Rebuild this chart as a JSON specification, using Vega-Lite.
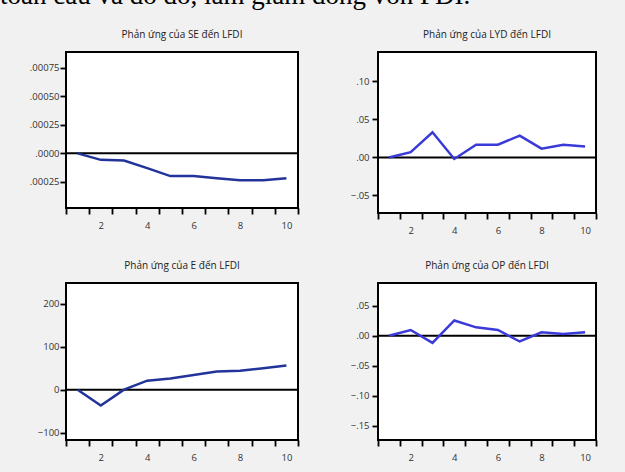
{
  "$schema": "https://vega.github.io/schema/vega-lite/v6.json",
  "autosize": {"type": "none"},
  "padding": {"left": 66, "top": 52, "right": 559, "bottom": 420},
  "background": "#f1f1f1",
  "title": {
    "text": "toàn cầu và do đó, làm giảm dòng vốn FDI.",
    "font": "Liberation Serif",
    "fontSize": 27,
    "fontWeight": "normal",
    "color": "black",
    "anchor": "start",
    "frame": "group",
    "dx": -66,
    "dy": -2,
    "offset": 17
  },
  "datasets": {
    "se": [
      {"period": 1, "value": 0.0},
      {"period": 2, "value": -0.000057},
      {"period": 3, "value": -0.000063},
      {"period": 4, "value": -0.00013},
      {"period": 5, "value": -0.0002},
      {"period": 6, "value": -0.0002},
      {"period": 7, "value": -0.000218},
      {"period": 8, "value": -0.000236},
      {"period": 9, "value": -0.000236},
      {"period": 10, "value": -0.000218}
    ],
    "lyd": [
      {"period": 1, "value": 0.0},
      {"period": 2, "value": 0.007},
      {"period": 3, "value": 0.033},
      {"period": 4, "value": -0.002},
      {"period": 5, "value": 0.0167},
      {"period": 6, "value": 0.0167},
      {"period": 7, "value": 0.0286},
      {"period": 8, "value": 0.0115},
      {"period": 9, "value": 0.0167},
      {"period": 10, "value": 0.0145}
    ],
    "e": [
      {"period": 1, "value": 0},
      {"period": 2, "value": -37},
      {"period": 3, "value": 0},
      {"period": 4, "value": 21},
      {"period": 5, "value": 26},
      {"period": 6, "value": 34},
      {"period": 7, "value": 42},
      {"period": 8, "value": 44},
      {"period": 9, "value": 50},
      {"period": 10, "value": 56}
    ],
    "op": [
      {"period": 1, "value": 0.0},
      {"period": 2, "value": 0.0096},
      {"period": 3, "value": -0.012},
      {"period": 4, "value": 0.0255},
      {"period": 5, "value": 0.014},
      {"period": 6, "value": 0.0096},
      {"period": 7, "value": -0.0096},
      {"period": 8, "value": 0.0057},
      {"period": 9, "value": 0.003},
      {"period": 10, "value": 0.0057}
    ],
    "zero": [{"ref": 0}]
  },
  "columns": 2,
  "align": "each",
  "bounds": "flush",
  "spacing": {"row": 70, "column": 80},
  "concat": [
    {
      "width": 232,
      "height": 156,
      "title": "Phản ứng của SE đến LFDI",
      "layer": [
        {
          "data": {"name": "zero"},
          "mark": {"type": "rule", "color": "black", "strokeWidth": 2},
          "encoding": {"y": {"field": "ref", "type": "quantitative"}}
        },
        {
          "data": {"name": "se"},
          "mark": {"type": "line", "color": "#22339a", "strokeWidth": 2.5},
          "encoding": {
            "x": {
              "field": "period", "type": "quantitative",
              "scale": {"domain": [0.5, 10.5], "nice": false, "zero": false},
              "axis": {"title": null, "values": [0.5,1.5,2.5,3.5,4.5,5.5,6.5,7.5,8.5,9.5,10.5], "tickCount": 20, "labelExpr": "datum.value % 2 == 1.5 ? format(datum.value + 0.5, 'd') : ''", "labelOffset": 11.6, "labelPadding": 6}
            },
            "y": {
              "field": "value", "type": "quantitative",
              "scale": {"domain": [-0.00048, 0.00089], "nice": false, "zero": false},
              "axis": {"title": null, "values": [-0.00025, 0, 0.00025, 0.0005, 0.00075], "tickCount": 20, "labelExpr": "datum.value == 0 ? '.0000' : replace(format(abs(datum.value), '.5f'), '0.', '.')", "labelPadding": 1}
            }
          }
        }
      ]
    },
    {
      "width": 218,
      "height": 161,
      "title": "Phản ứng của LYD đến LFDI",
      "layer": [
        {
          "data": {"name": "zero"},
          "mark": {"type": "rule", "color": "black", "strokeWidth": 2},
          "encoding": {"y": {"field": "ref", "type": "quantitative"}}
        },
        {
          "data": {"name": "lyd"},
          "mark": {"type": "line", "color": "#3a3ad8", "strokeWidth": 2.5},
          "encoding": {
            "x": {
              "field": "period", "type": "quantitative",
              "scale": {"domain": [0.5, 10.5], "nice": false, "zero": false},
              "axis": {"title": null, "values": [0.5,1.5,2.5,3.5,4.5,5.5,6.5,7.5,8.5,9.5,10.5], "tickCount": 20, "labelExpr": "datum.value % 2 == 1.5 ? format(datum.value + 0.5, 'd') : ''", "labelOffset": 10.9, "labelPadding": 6}
            },
            "y": {
              "field": "value", "type": "quantitative",
              "scale": {"domain": [-0.073, 0.1385], "nice": false, "zero": false},
              "axis": {"title": null, "values": [-0.05, 0, 0.05, 0.1], "tickCount": 20, "labelExpr": "replace(format(datum.value, '.2f'), '0.', '.')", "labelPadding": 3}
            }
          }
        }
      ]
    },
    {
      "width": 232,
      "height": 157,
      "title": "Phản ứng của E đến LFDI",
      "layer": [
        {
          "data": {"name": "zero"},
          "mark": {"type": "rule", "color": "black", "strokeWidth": 2},
          "encoding": {"y": {"field": "ref", "type": "quantitative"}}
        },
        {
          "data": {"name": "e"},
          "mark": {"type": "line", "color": "#22339a", "strokeWidth": 2.5},
          "encoding": {
            "x": {
              "field": "period", "type": "quantitative",
              "scale": {"domain": [0.5, 10.5], "nice": false, "zero": false},
              "axis": {"title": null, "values": [0.5,1.5,2.5,3.5,4.5,5.5,6.5,7.5,8.5,9.5,10.5], "tickCount": 20, "labelExpr": "datum.value % 2 == 1.5 ? format(datum.value + 0.5, 'd') : ''", "labelOffset": 11.6, "labelPadding": 6}
            },
            "y": {
              "field": "value", "type": "quantitative",
              "scale": {"domain": [-117, 248], "nice": false, "zero": false},
              "axis": {"title": null, "values": [-100, 0, 100, 200], "tickCount": 20, "labelPadding": 1}
            }
          }
        }
      ]
    },
    {
      "width": 218,
      "height": 157,
      "title": "Phản ứng của OP đến LFDI",
      "layer": [
        {
          "data": {"name": "zero"},
          "mark": {"type": "rule", "color": "black", "strokeWidth": 2},
          "encoding": {"y": {"field": "ref", "type": "quantitative"}}
        },
        {
          "data": {"name": "op"},
          "mark": {"type": "line", "color": "#3a3ad8", "strokeWidth": 2.5},
          "encoding": {
            "x": {
              "field": "period", "type": "quantitative",
              "scale": {"domain": [0.5, 10.5], "nice": false, "zero": false},
              "axis": {"title": null, "values": [0.5,1.5,2.5,3.5,4.5,5.5,6.5,7.5,8.5,9.5,10.5], "tickCount": 20, "labelExpr": "datum.value % 2 == 1.5 ? format(datum.value + 0.5, 'd') : ''", "labelOffset": 10.9, "labelPadding": 6}
            },
            "y": {
              "field": "value", "type": "quantitative",
              "scale": {"domain": [-0.174, 0.088], "nice": false, "zero": false},
              "axis": {"title": null, "values": [-0.15, -0.1, -0.05, 0, 0.05], "tickCount": 20, "labelExpr": "replace(format(datum.value, '.2f'), '0.', '.')", "labelPadding": 3}
            }
          }
        }
      ]
    }
  ],
  "config": {
    "view": {"stroke": "black", "strokeWidth": 2, "fill": "white"},
    "axis": {
      "grid": false,
      "domain": false,
      "tickColor": "black",
      "tickWidth": 1.8,
      "tickSize": 6,
      "labelFont": "Open Sans",
      "labelFontSize": 9.5,
      "labelColor": "#333333",
      "labelOverlap": false,
      "labelBound": false
    },
    "title": {
      "font": "Open Sans",
      "fontSize": 10,
      "fontWeight": "normal",
      "color": "#222222",
      "offset": 12
    }
  }
}
